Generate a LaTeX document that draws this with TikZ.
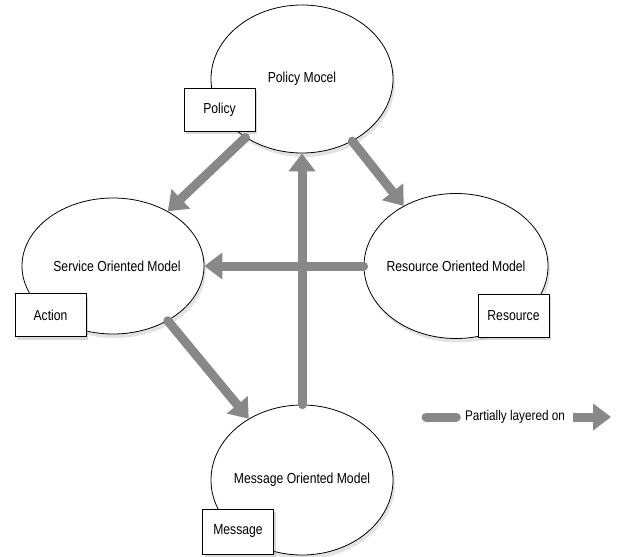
\documentclass[tikz,border=0pt]{standalone}
\usepackage{fontspec}
\setmainfont[FakeStretch=0.84]{Liberation Sans}
\usetikzlibrary{arrows.meta,shapes.geometric,shadows}
\definecolor{arrowgray}{RGB}{136,136,136}
\tikzset{
  model/.style={ellipse, draw=black, line width=0.8pt, fill=white, inner sep=0pt,
    minimum width=182pt, minimum height=148pt,
    drop shadow={opacity=0.22, shadow xshift=2pt, shadow yshift=-4pt}},
  modeltext/.style={font=\fontsize{14.5}{16}\selectfont, inner sep=0pt},
  tag/.style={rectangle, draw=black, line width=0.8pt, fill=white, inner sep=0pt,
    minimum width=71pt, minimum height=43pt, font=\fontsize{14.5}{16}\selectfont,
    drop shadow={opacity=0.3, shadow xshift=2pt, shadow yshift=-3pt}},
  layer/.style={draw=arrowgray, line width=9pt, line cap=round,
    -{Triangle[length=18pt,width=26pt]}},
}
\begin{document}
\begin{tikzpicture}[x=1pt,y=-1pt]
\useasboundingbox (0,0) rectangle (617,556);
% ellipses
\node[model, label={[modeltext]center:Policy Mocel}] (policy) at (302,79) {};
\node[model, minimum height=136pt, label={[modeltext, xshift=4pt]center:Service Oriented Model}] (service) at (113,266) {};
\node[model, minimum width=184pt, minimum height=145pt, label={[modeltext]center:Resource Oriented Model}] (resource) at (456,266) {};
\node[model, minimum height=150pt, label={[modeltext]center:Message Oriented Model}] (message) at (302,480) {};
% arrows
\draw[layer] (policy.226) -- (service.45);
\draw[layer] (policy.309) -- (resource.131);
\draw[layer] (resource.west) -- (service.east);
\draw[layer] (message.north) -- (policy.south);
\draw[layer] (service.315) -- (message.131);
% tags
\node[tag] (policytag) at (219.5,109.5) {Policy};
\node[tag] (actiontag) at (50.5,315) {Action};
\node[tag] (resourcetag) at (513.5,315.5) {Resource};
\node[tag, minimum height=45pt] (messagetag) at (238,531.5) {Message};
% legend
\node[font=\fontsize{14}{16}\selectfont, inner sep=0pt] (legend) at (515,417) {Partially layered on};
\coordinate (legA) at (426,417);
\coordinate (legB) at (611,417);
\draw[draw=arrowgray, line width=9pt, line cap=round] (legA) -- ([xshift=-8.5pt]legend.west);
\draw[draw=arrowgray, line width=9pt, -{Triangle[length=18pt,width=26pt]}] ([xshift=8pt]legend.east) -- (legB);
\end{tikzpicture}
\end{document}
